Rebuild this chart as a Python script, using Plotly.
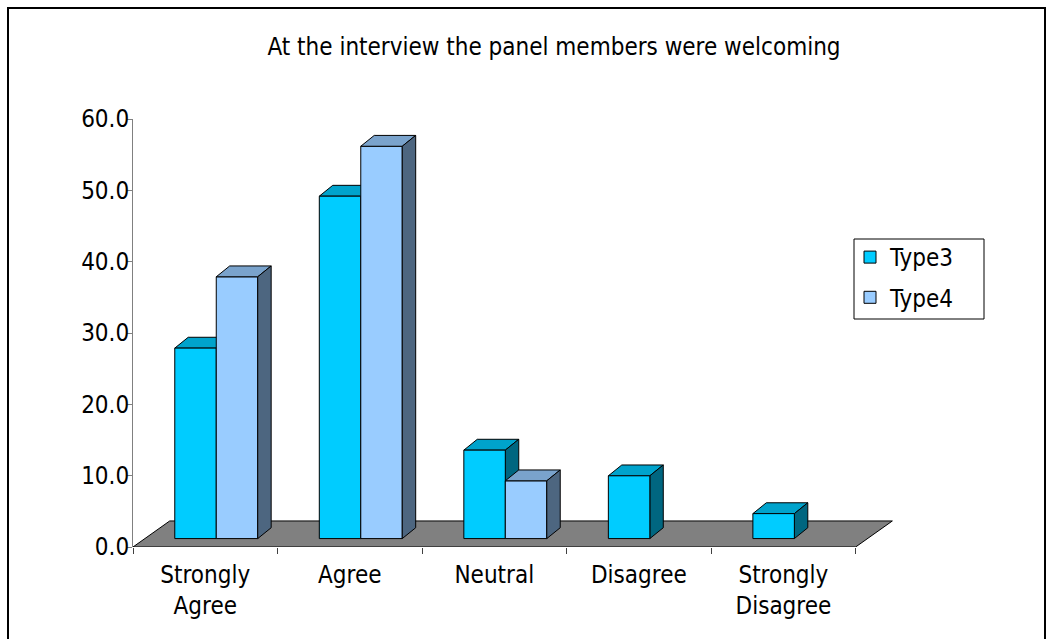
import plotly.graph_objects as go

# ---- data -------------------------------------------------------------
categories = ["Strongly<br>Agree", "Agree", "Neutral", "Disagree", "Strongly<br>Disagree"]
type3 = [26.7, 48.0, 12.4, 8.8, 3.5]
type4 = [36.7, 55.0, 8.1, None, None]
y_ticks = [0, 10, 20, 30, 40, 50, 60]

title_text = "At the interview the panel members were welcoming"

# ---- 3-D look (oblique projection, in axis units) ---------------------
FLOOR_DX, FLOOR_DY = 0.254, 3.65     # depth of the floor
LIFT_DX, LIFT_DY = 0.076, 1.18       # bars stand a little back on the floor
DEPTH_DX, DEPTH_DY = 0.093, 1.52     # depth of each column
BAR_W = 0.287                        # width of one column (category = 1)

series = [
    dict(name="Type3", values=type3, offset=LIFT_DX - BAR_W,
         front="#00CCFF", top="#00A3CC", side="#006680"),
    dict(name="Type4", values=type4, offset=LIFT_DX,
         front="#99CCFF", top="#7AA3CC", side="#4D6680"),
]

FONT = "Tahoma, 'DejaVu Sans Condensed', 'DejaVu Sans', sans-serif"

fig = go.Figure()
shapes = []

# floor of the chart
shapes.append(dict(
    type="path", xref="x", yref="y", layer="below",
    path=(f"M -0.5,0 L {len(categories) - 0.5},0 "
          f"L {len(categories) - 0.5 + FLOOR_DX},{FLOOR_DY} "
          f"L {-0.5 + FLOOR_DX},{FLOOR_DY} Z"),
    fillcolor="#808080", line=dict(color="#000000", width=1),
))


def box_faces(i, v, s, layer):
    """Top and right-hand faces of one column."""
    x0 = i + s["offset"]
    x1 = x0 + BAR_W
    yb = LIFT_DY
    yt = LIFT_DY + v
    top = (f"M {x0},{yt} L {x1},{yt} L {x1 + DEPTH_DX},{yt + DEPTH_DY} "
           f"L {x0 + DEPTH_DX},{yt + DEPTH_DY} Z")
    side = (f"M {x1},{yb} L {x1},{yt} L {x1 + DEPTH_DX},{yt + DEPTH_DY} "
            f"L {x1 + DEPTH_DX},{yb + DEPTH_DY} Z")
    return [
        dict(type="path", xref="x", yref="y", layer=layer, path=top,
             fillcolor=s["top"], line=dict(color="#000000", width=1)),
        dict(type="path", xref="x", yref="y", layer=layer, path=side,
             fillcolor=s["side"], line=dict(color="#000000", width=1)),
    ]


for k, s in enumerate(series):
    layer = "below" if k == 0 else "above"
    for i, v in enumerate(s["values"]):
        if v is None:
            continue
        shapes.extend(box_faces(i, v, s, layer))

    fig.add_trace(go.Bar(
        name=s["name"], x=categories, y=s["values"],
        base=LIFT_DY, width=BAR_W, offset=s["offset"],
        marker=dict(color=s["front"], line=dict(color="#000000", width=1)),
        legendgroup=s["name"],
    ))

# page layout in pixels
L, R, T, B = 133, 154, 119, 92
PW, PH = 1053 - L - R, 639 - T - B


def px_to_paper_x(px):
    return (px - L) / PW


def px_to_paper_y(py):
    return (639 - B - py) / PH


# outer chart frame
shapes.append(dict(
    type="rect", xref="paper", yref="paper", layer="below",
    x0=px_to_paper_x(8), x1=px_to_paper_x(1045),
    y0=px_to_paper_y(660), y1=px_to_paper_y(8),
    line=dict(color="#000000", width=2), fillcolor="rgba(0,0,0,0)",
))

# frame around the legend
shapes.append(dict(
    type="rect", xref="paper", yref="paper", layer="above",
    x0=px_to_paper_x(854), x1=px_to_paper_x(984),
    y0=px_to_paper_y(319), y1=px_to_paper_y(239),
    line=dict(color="#000000", width=1), fillcolor="rgba(0,0,0,0)",
))

fig.update_layout(
    width=1053, height=639,
    margin=dict(l=L, r=R, t=T, b=B),
    paper_bgcolor="white", plot_bgcolor="rgba(0,0,0,0)",
    font=dict(family=FONT, size=24, color="#000000"),
    barmode="overlay",
    shapes=shapes,
    title=dict(text=title_text, x=px_to_paper_x(554), xref="paper",
               xanchor="center", y=1 - 47 / 639, yref="container",
               yanchor="middle", font=dict(family=FONT, size=24)),
    xaxis=dict(
        type="category", range=[-0.5, len(categories) - 0.2],
        tickson="boundaries", ticks="outside", ticklen=6,
        tickcolor="#404040", showline=False, showgrid=False,
        zeroline=False, tickfont=dict(size=24),
        ticklabelstandoff=11,
    ),
    yaxis=dict(
        range=[0, 60], tickvals=y_ticks, tickformat=".1f",
        ticks="outside", ticklen=5, tickcolor="#808080",
        showline=True, linecolor="#808080", linewidth=1,
        showgrid=False, zeroline=False, tickfont=dict(size=24),
        ticklabelstandoff=-7,
    ),
    legend=dict(
        x=px_to_paper_x(850), y=px_to_paper_y(235),
        xanchor="left", yanchor="top",
        borderwidth=0, bgcolor="rgba(0,0,0,0)",
        font=dict(size=24), tracegroupgap=6,
    ),
    showlegend=True,
)

fig.write_html("out.html")
